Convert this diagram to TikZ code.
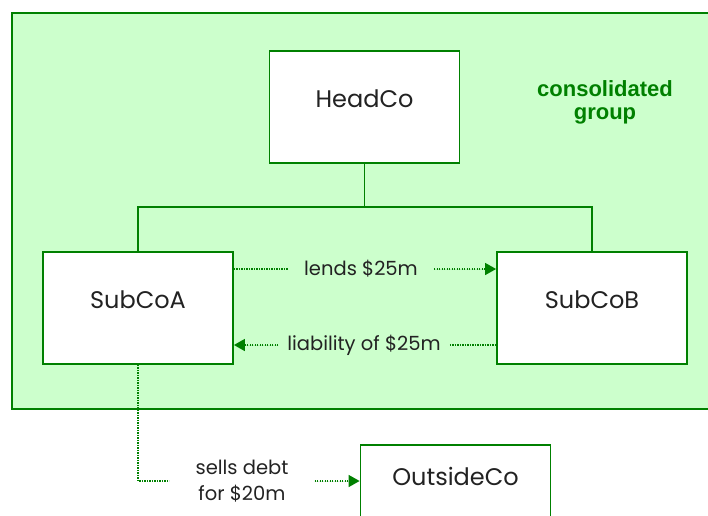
\documentclass[tikz,border=0pt]{standalone}
\usepackage{fontspec}
\setmainfont{Poppins}
\newfontfamily\grpfont{Liberation Sans}
\usetikzlibrary{arrows.meta}
\definecolor{grline}{HTML}{008000}
\definecolor{grfill}{HTML}{CCFFCC}
\definecolor{txt}{HTML}{222222}
\tikzset{
  cobox/.style={draw=grline, line width=1.8pt, fill=white, minimum width=190pt, inner sep=0pt, text=txt, font=\fontsize{24}{28}\selectfont, text height=17pt, text depth=16pt},
  solidline/.style={draw=grline, line width=1.8pt},
  dotline/.style={draw=grline, line width=1.4pt, dash pattern=on 1.1pt off 1.4pt},
  tipped/.style={-{Triangle[length=11pt,width=12pt]}},
  lbl/.style={text=txt, font=\fontsize{19.5}{25}\selectfont, inner ysep=0pt}
}
\begin{document}
\begin{tikzpicture}[x=1pt,y=-1pt]
\useasboundingbox (0,0) rectangle (708,515);
\clip (0,0) rectangle (708,515);
\fill[grfill] (12,13) rectangle (720,409);
\draw[solidline] (720,13) -- (12,13) -- (12,409) -- (720,409);
\node (group) [text=grline, font=\grpfont\bfseries\fontsize{22}{23}\selectfont, align=center] at (605,102) {consolidated\\group};
\node (head) [cobox, minimum height=112pt] at (364.5,107) {HeadCo};
\node (subA) [cobox, minimum height=112pt] at (138,308) {SubCoA};
\node (subB) [cobox, minimum height=112pt] at (592,308) {SubCoB};
\node (outside) [cobox, anchor=north, text height=17pt, text depth=60pt, inner ysep=24pt] at (455.5,444) {OutsideCo};
\coordinate (junc) at (364.5,207);
\draw[solidline] (head.south) -- (junc);
\draw[solidline] (subA.north) |- (junc) -| (subB.north);
\node (lends) [lbl, inner xsep=16pt] at (361,269) {lends \$25m};
\draw[dotline] (subA.east |- lends.west) -- (lends.west);
\draw[dotline, tipped, fill=grline] (lends.east) -- (subB.west |- lends.east);
\node (liab) [lbl, inner xsep=9pt] at (364,345) {liability of \$25m};
\draw[dotline] (liab.east) -- (subB.west |- liab.east);
\draw[dotline, tipped, fill=grline] (liab.west) -- (subA.east |- liab.west);
\node (sells) [lbl, align=center, inner xsep=26pt, font=\fontsize{19.5}{26}\selectfont] at (242,481) {sells debt\\for \$20m};
\draw[dotline] (subA.south) |- (sells.west);
\draw[dotline, tipped, fill=grline] (sells.east) -- (outside.west |- sells.east);
\end{tikzpicture}
\end{document}
